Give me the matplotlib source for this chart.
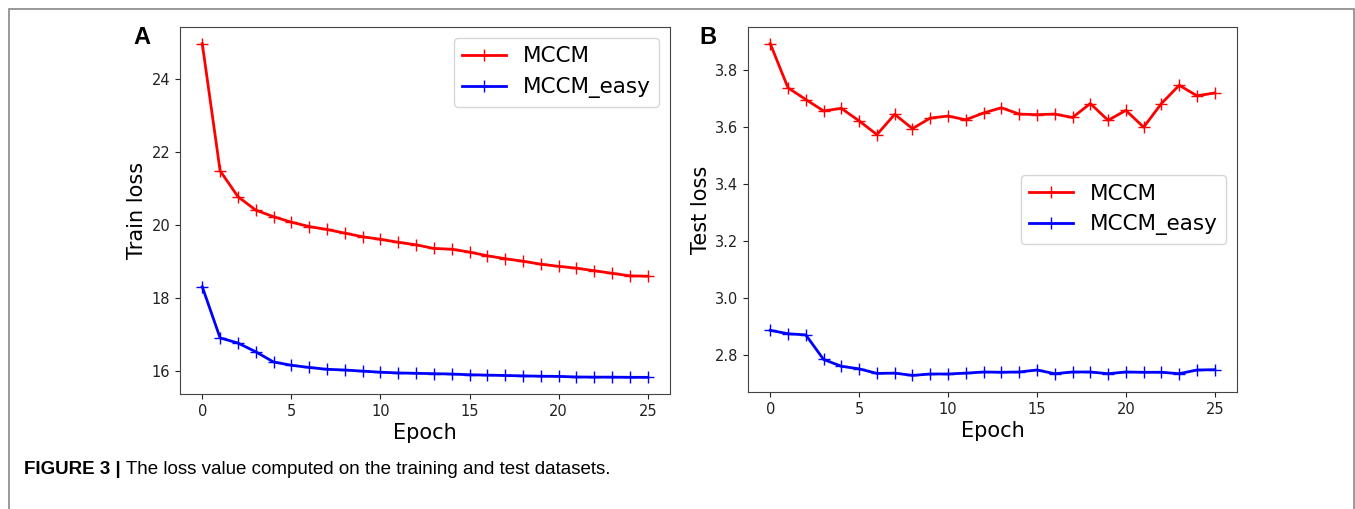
import matplotlib as mpl
mpl.use('Agg')
import matplotlib.pyplot as plt
from matplotlib.patches import Rectangle
import numpy as np

epochs = list(range(26))

train_mccm = [24.97, 21.49, 20.78, 20.41, 20.23, 20.08, 19.96, 19.88, 19.78, 19.68,
              19.61, 19.53, 19.46, 19.36, 19.34, 19.26, 19.16, 19.08, 19.01, 18.93,
              18.87, 18.82, 18.75, 18.68, 18.61, 18.60]
train_easy = [18.31, 16.91, 16.77, 16.53, 16.25, 16.16, 16.10, 16.05, 16.03, 16.00,
              15.97, 15.95, 15.94, 15.93, 15.92, 15.90, 15.89, 15.88, 15.87, 15.86,
              15.855, 15.84, 15.835, 15.835, 15.83, 15.83]

test_mccm = [3.891, 3.736, 3.695, 3.655, 3.664, 3.620, 3.572, 3.643, 3.593, 3.630,
             3.637, 3.624, 3.648, 3.666, 3.644, 3.642, 3.644, 3.632, 3.681, 3.622,
             3.657, 3.598, 3.681, 3.745, 3.708, 3.718]
test_easy = [2.886, 2.874, 2.870, 2.784, 2.760, 2.751, 2.735, 2.736, 2.728, 2.733,
             2.733, 2.736, 2.740, 2.739, 2.740, 2.747, 2.734, 2.740, 2.740, 2.734,
             2.740, 2.739, 2.739, 2.734, 2.747, 2.748]

labels = ["MCCM", "MCCM_easy"]
caption_bold = "FIGURE 3 |"
caption_rest = " The loss value computed on the training and test datasets."

W, H = 1355, 509
fig = plt.figure(figsize=(W / 100, H / 100), dpi=100)

def box(l, r, t, b):
    return [l / W, 1 - b / H, (r - l) / W, (b - t) / H]

axA = fig.add_axes(box(180, 670, 27, 394))
axB = fig.add_axes(box(748, 1237, 27, 392))

for ax, ys, ylabel, loc in [(axA, (train_mccm, train_easy), "Train loss", "upper right"),
                            (axB, (test_mccm, test_easy), "Test loss", "center right")]:
    ax.plot(epochs, ys[0], color='red', marker='+', markersize=8, lw=2, label=labels[0])
    ax.plot(epochs, ys[1], color='blue', marker='+', markersize=8, lw=2, label=labels[1])
    ax.set_xlabel("Epoch", fontsize=15, labelpad=3)
    ax.set_ylabel(ylabel, fontsize=15, labelpad=3)
    ax.set_xticks([0, 5, 10, 15, 20, 25])
    ax.tick_params(labelsize=10.5, colors='#222222')
    ax.legend(loc=loc, fontsize=15.5)
    for s in ax.spines.values():
        s.set_color('#444444')

axA.set_yticks([16, 18, 20, 22, 24])
axB.set_yticks([2.8, 3.0, 3.2, 3.4, 3.6, 3.8])

fig.text(133 / W, 1 - 37 / H, "A", fontsize=17, fontweight='bold',
         family='Liberation Sans', va='center')
fig.text(699 / W, 1 - 37 / H, "B", fontsize=17, fontweight='bold',
         family='Liberation Sans', va='center')

# outer frame
fig.patches.append(Rectangle((9 / W, -0.1), (1354 - 9) / W, 1.1 - 9 / H,
                             transform=fig.transFigure, fill=False,
                             edgecolor='#888888', lw=1.2, clip_on=False))

t1 = fig.text(24 / W, 1 - 470 / H, caption_bold, fontsize=13.5, fontweight='bold',
              family='Liberation Sans', va='center')
fig.canvas.draw()
bb = t1.get_window_extent(fig.canvas.get_renderer())
fig.text(bb.x1 / W, 1 - 470 / H, caption_rest, fontsize=13.5,
         family='Liberation Sans', va='center')

fig.savefig("out.png", dpi=100)
